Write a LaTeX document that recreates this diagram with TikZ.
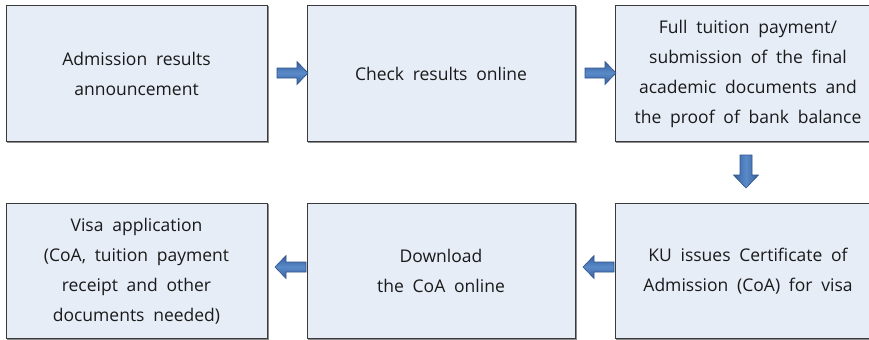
\documentclass[tikz,border=0pt]{standalone}
\usepackage{fontspec}
\setmainfont{Open Sans}
\definecolor{boxfill}{HTML}{E6EDF7}
\definecolor{boxline}{HTML}{3A3A3A}
\definecolor{shadowline}{HTML}{8C8C8C}
\definecolor{arrdark}{HTML}{36609E}
\definecolor{arrmid}{HTML}{5A8AC8}
\definecolor{arredge}{HTML}{30548A}
\definecolor{txt}{HTML}{1A1A1A}
\newcommand\mywsp{\spaceskip=0.5em plus 0.1em\relax}
\tikzset{
  stepbox/.style={draw=boxline, line width=1bp, fill=boxfill},
  boxtext/.style={align=center, text=txt, font=\fontsize{17.5bp}{30bp}\selectfont\mywsp},
  harrow/.style={draw=arredge, line width=0.6bp, top color=arrdark, bottom color=arrdark, middle color=arrmid},
  varrow/.style={draw=arredge, line width=0.6bp, left color=arrdark, right color=arrdark, middle color=arrmid}
}
\begin{document}
\begin{tikzpicture}[x=1bp,y=-1bp]
\useasboundingbox (0,0) rectangle (869,339);
\begin{scope}
\clip (0,0) rectangle (869,339);
\foreach \xa/\ya/\xb/\yb in {6/5/267/141, 307/5/575/141, 615/5/885/141, 6/203/267/338, 307/203/575/338, 615/203/885/338}{
  \draw[shadowline, line width=1.5bp] (\xa+1,\yb+1) -- (\xb+1,\yb+1) -- (\xb+1,\ya+1);
}
\draw[stepbox] (6,5) rectangle (267,141);
\node[boxtext] (b1) at (136.5,74) {Admission results\\announcement};
\draw[stepbox] (307,5) rectangle (575,141);
\node[boxtext] (b2) at (441,74) {Check results online};
\draw[stepbox] (615,5) rectangle (885,141);
\node[boxtext] (b3) at (748,74) {Full tuition payment/\\submission of the final\\academic documents and\\the proof of bank balance};
\draw[stepbox] (6,203) rectangle (267,338);
\node[boxtext] (b6) at (136.5,271) {Visa application\\(CoA, tuition payment\\receipt and other\\documents needed)};
\draw[stepbox] (307,203) rectangle (575,338);
\node[boxtext] (b5) at (441,271) {Download\\the CoA online};
\draw[stepbox] (615,203) rectangle (885,338);
\node[boxtext] (b4) at (748,271) {KU issues Certificate of\\Admission (CoA) for visa};
\end{scope}
\coordinate (a1) at (277,73);
\coordinate (a2) at (585,73);
\coordinate (a3) at (746,155);
\coordinate (a4) at (307,267);
\coordinate (a5) at (615,267);
\foreach \c in {a1,a2}{
  \path[harrow] ([shift={(0,-5)}]\c) -- ++(20,0) -- ++(0,-6.5) -- ++(11,11.5) -- ++(-11,11.5) -- ++(0,-6.5) -- ++(-20,0) -- cycle;
}
\foreach \c in {a4,a5}{
  \path[harrow] ([shift={(-1,-5)}]\c) -- ++(-20,0) -- ++(0,-6.5) -- ++(-11,11.5) -- ++(11,11.5) -- ++(0,-6.5) -- ++(20,0) -- cycle;
}
\path[varrow] ([shift={(-6,0)}]a3) -- ++(0,20) -- ++(-6.5,0) -- ++(12.5,13) -- ++(12.5,-13) -- ++(-6.5,0) -- ++(0,-20) -- cycle;
\end{tikzpicture}
\end{document}
